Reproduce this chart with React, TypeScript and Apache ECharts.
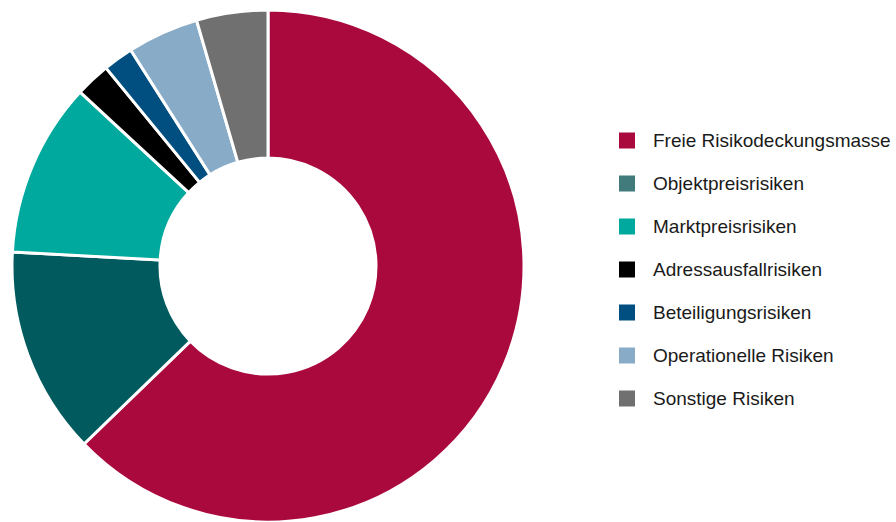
import React, { useEffect, useRef } from "react";
import * as echarts from "echarts";

const categories = [
  "Freie Risikodeckungsmasse",
  "Objektpreisrisiken",
  "Marktpreisrisiken",
  "Adressausfallrisiken",
  "Beteiligungsrisiken",
  "Operationelle Risiken",
  "Sonstige Risiken",
];
const values = [62.7, 13.1, 11.0, 2.2, 1.9, 4.5, 4.5];
const colors = ["#AA093E", "#005A5E", "#00A99D", "#000000", "#004F80", "#88ACC8", "#707070"];
const legendColors = ["#AA093E", "#417B7B", "#00A99D", "#000000", "#004F80", "#88ACC8", "#707070"];

export default function App() {
  const ref = useRef<HTMLDivElement>(null);
  useEffect(() => {
    document.body.style.margin = "0";
    document.body.style.overflow = "hidden";
    if (!ref.current) return;
    const chart = echarts.init(ref.current, null, { renderer: "svg" });
    chart.setOption({
      animation: false,
      legend: {
        orient: "vertical",
        left: 617,
        top: 130.5,
        padding: 0,
        icon: "rect",
        itemWidth: 18,
        itemHeight: 18,
        itemGap: 23,
        selectedMode: false,
        textStyle: {
          fontFamily: "Liberation Sans, Arial, sans-serif",
          fontSize: 19,
          lineHeight: 20,
          color: "#1a1a1a",
          padding: [0, 0, 0, 12],
        },
        data: categories.map((c, i) => ({ name: c, itemStyle: { color: legendColors[i] } })),
      },
      series: [
        {
          type: "pie",
          center: [268, 266],
          radius: [108, 256],
          startAngle: 90,
          clockwise: true,
          label: { show: false },
          labelLine: { show: false },
          emphasis: { disabled: true },
          itemStyle: { borderColor: "#ffffff", borderWidth: 3 },
          data: categories.map((c, i) => ({
            name: c,
            value: values[i],
            itemStyle: { color: colors[i] },
          })),
        },
      ],
    });
    return () => chart.dispose();
  }, []);
  return <div ref={ref} style={{ width: 896, height: 522 }} />;
}
